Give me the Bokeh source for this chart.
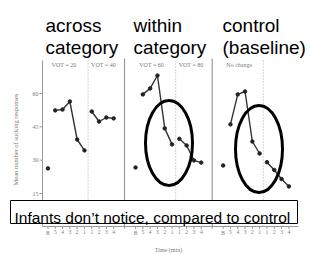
import math
from bokeh.plotting import figure
from bokeh.models import Range1d, Label, BoxAnnotation
from bokeh.core.properties import value
from bokeh.embed import file_html
from bokeh.resources import INLINE

# ---------------- data ----------------
time_labels = ["B", "5", "4", "3", "2", "1", "1", "2", "3", "4"]
header_top = ["across", "within", "control"]
header_bottom = ["category", "category", "(baseline)"]
panel_left_titles = ["VOT = 20", "VOT = 60", "No change"]
panel_right_titles = ["VOT = 40", "VOT = 80", ""]
baseline = [26.3, 26.7, 27.6]
pre_shift = [
    [52.4, 52.8, 56.4, 39.3, 34.4],
    [59.6, 62.3, 68.1, 44.3, 37.1],
    [46.1, 59.6, 60.9, 38.4, 33.0],
]
post_shift = [
    [51.9, 47.4, 49.2, 48.8],
    [39.6, 36.6, 29.9, 28.9],
    [29.1, 25.6, 21.5, 18.2],
]
y_ticks = [15, 30, 45, 60]
y_title = "Mean number of sucking responses"
x_title = "Time (min)"
note = "Infants don\u2019t notice, compared to control"

# ---------------- layout helpers (canvas pixels -> data) ----------------
W, H = 310, 255
STEP = 7.3      # px per time slot
X0 = 47.45      # canvas x of slot 0
PANEL = 12      # slots per panel


def px(xp):
    return (xp - X0) / STEP


def py(yp):
    return 15 + (193 - yp) * 0.45


p = figure(width=W, height=H, output_backend="svg", toolbar_location=None,
           x_range=Range1d(px(0), px(W)), y_range=Range1d(py(H), py(0)),
           min_border=0)
p.outline_line_color = None
p.axis.visible = False
p.xgrid.visible = False
p.ygrid.visible = False
p.background_fill_color = "white"
p.border_fill_color = "white"

AX = "#9a9a9a"
TXT = "#7a7a7a"
SERIF = "Liberation Serif"

# ---- y axis (drawn on the value scale) ----
p.segment(x0=[px(42)], x1=[px(42)], y0=[py(226)], y1=[py(60)], line_color=AX, line_width=1)
p.segment(x0=[px(39)] * len(y_ticks), x1=[px(42)] * len(y_ticks), y0=y_ticks, y1=y_ticks,
          line_color=AX, line_width=1)
p.text(x=[px(38)] * len(y_ticks), y=y_ticks, text=[str(t) for t in y_ticks],
       text_font=value(SERIF), text_font_size="6px", text_color=TXT,
       text_align="right", text_baseline="middle")
p.text(x=[px(15)], y=[py(139)], text=[y_title], angle=math.pi / 2,
       text_font=value(SERIF), text_font_size="6.5px", text_color=TXT,
       text_align="center", text_baseline="middle")

# ---- x axis ----
xt = [k * PANEL + i for k in range(3) for i in range(len(time_labels))]
xl = [lab for k in range(3) for lab in time_labels]
p.segment(x0=[px(42)], x1=[px(298)], y0=[py(226)], y1=[py(226)], line_color=AX, line_width=1)
p.segment(x0=xt, x1=xt, y0=[py(226)] * len(xt), y1=[py(228.5)] * len(xt), line_color=AX, line_width=1)
p.text(x=xt, y=[py(229.5)] * len(xt), text=xl, text_font=value(SERIF), text_font_size="5.5px",
       text_color=TXT, text_align="center", text_baseline="top")
p.text(x=[px(168)], y=[py(249)], text=[x_title], text_font=value(SERIF), text_font_size="6px",
       text_color=TXT, text_align="center", text_baseline="middle")

# ---- panel separators and shift markers ----
seps = [k * PANEL - 1.5 for k in (1, 2)]
p.segment(x0=seps, x1=seps, y0=[py(228)] * 2, y1=[py(58)] * 2, line_color="#8a8a8a", line_width=1)
shifts = [k * PANEL + 5.5 for k in range(3)]
p.segment(x0=shifts, x1=shifts, y0=[py(226)] * 3, y1=[py(60)] * 3,
          line_color="#aaaaaa", line_width=1, line_dash="1 2")

# ---- data ----
for k in range(3):
    xb = k * PANEL
    p.scatter([xb], [baseline[k]], size=3.5, color="#222222")
    xpre = [xb + 1 + i for i in range(len(pre_shift[k]))]
    xpost = [xb + 6 + i for i in range(len(post_shift[k]))]
    p.line(xpre, pre_shift[k], line_color="#333333", line_width=1.4)
    p.scatter(xpre, pre_shift[k], size=3.5, color="#222222")
    p.line(xpost, post_shift[k], line_color="#333333", line_width=1.4)
    p.scatter(xpost, post_shift[k], size=3.5, color="#222222")
    p.add_layout(Label(x=xb + 2.2, y=py(64), text=panel_left_titles[k], text_font=SERIF,
                       text_font_size="6px", text_color=TXT, text_align="center", text_baseline="middle"))
    if panel_right_titles[k]:
        p.add_layout(Label(x=xb + 7.6, y=py(64), text=panel_right_titles[k], text_font=SERIF,
                           text_font_size="6px", text_color=TXT, text_align="center", text_baseline="middle"))

# ---- headers ----
for k, xp in enumerate([45, 133, 222]):
    p.add_layout(Label(x=px(xp), y=py(25), text=header_top[k], text_font="Liberation Sans",
                       text_font_size="19px", text_color="black", text_align="left", text_baseline="alphabetic"))
    p.add_layout(Label(x=px(xp), y=py(47), text=header_bottom[k], text_font="Liberation Sans",
                       text_font_size="19px", text_color="black", text_align="left", text_baseline="alphabetic"))

# ---- ellipses ----
p.ellipse(x=[px(168.5), px(258.5)], y=[py(142.5), py(148.5)], width=[47, 47], height=[85, 87],
          width_units="screen", height_units="screen", fill_color=None, line_color="black", line_width=3)

# ---- note box ----
p.add_layout(BoxAnnotation(left=px(10), right=px(297), top=py(200), bottom=py(223),
                           fill_color="white", fill_alpha=1, line_color="black", line_alpha=1, line_width=1))
p.add_layout(Label(x=px(14), y=py(217), text=note, text_font="Liberation Sans", text_font_size="15.5px",
                   text_color="black", text_align="left", text_baseline="alphabetic"))

open("out.html", "w").write(file_html(p, INLINE))
